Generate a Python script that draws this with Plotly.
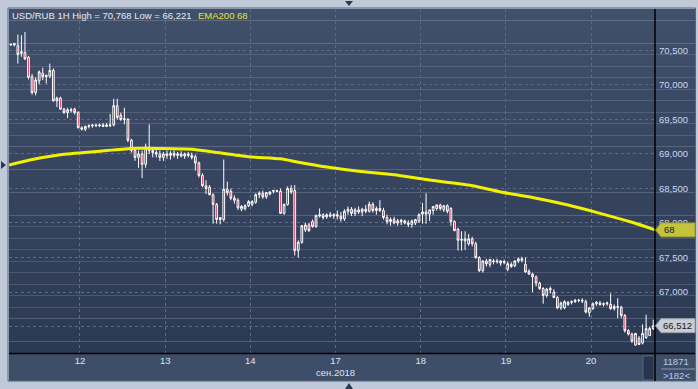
import plotly.graph_objects as go

# ---------------- data (USD/RUB, 1H candles, 11-20 Sep 2018) ----------------
opens = [70.59, 70.58, 70.57, 70.46, 70.47, 70.40, 70.12, 69.89, 70.06, 70.17,
         70.12, 70.13, 70.21, 69.77, 69.81, 69.65, 69.60, 69.63, 69.65, 69.60,
         69.38, 69.36, 69.40, 69.41, 69.42, 69.41, 69.42, 69.40, 69.41, 69.42,
         69.70, 69.56, 69.50, 69.50, 69.20, 69.05, 68.95, 69.00, 68.85, 69.10,
         69.05, 69.02, 69.00, 68.95, 69.00, 68.98, 69.01, 68.98, 69.00, 68.97,
         69.00, 68.98, 68.96, 68.87, 68.69, 68.54, 68.52, 68.41, 68.27, 68.05,
         68.05, 68.49, 68.46, 68.36, 68.33, 68.20, 68.21, 68.25, 68.27, 68.30,
         68.41, 68.43, 68.38, 68.42, 68.46, 68.47, 68.46, 68.14, 68.27, 68.50,
         68.47, 67.60, 67.72, 67.90, 67.97, 68.02, 67.95, 68.10, 68.12, 68.09,
         68.12, 68.10, 68.12, 68.10, 68.06, 68.17, 68.20, 68.14, 68.19, 68.16,
         68.20, 68.17, 68.27, 68.18, 68.21, 68.18, 68.08, 68.02, 68.05, 68.00,
         68.02, 68.03, 68.00, 67.98, 68.00, 68.03, 68.13, 68.16, 68.13, 68.18,
         68.21, 68.26, 68.19, 68.25, 68.21, 68.02, 67.91, 67.75, 67.74, 67.70,
         67.77, 67.70, 67.50, 67.31, 67.45, 67.40, 67.44, 67.45, 67.42, 67.44,
         67.33, 67.40, 67.38, 67.45, 67.48, 67.40, 67.30, 67.26, 67.22, 67.13,
         67.05, 66.95, 67.03, 67.00, 66.92, 66.77, 66.77, 66.82, 66.85, 66.86,
         66.88, 66.88, 66.86, 66.70, 66.76, 66.83, 66.84, 66.82, 66.83, 66.82,
         66.76, 66.79, 66.78, 66.66, 66.44, 66.39, 66.23, 66.33, 66.26, 66.34,
         66.37, 66.47]
highs = [70.60, 70.61, 70.73, 70.72, 70.768, 70.42, 70.16, 70.11, 70.21, 70.25,
         70.15, 70.31, 70.24, 69.83, 69.83, 69.67, 69.67, 69.67, 69.67, 69.62,
         69.40, 69.41, 69.43, 69.43, 69.44, 69.44, 69.45, 69.45, 69.58, 69.80,
         69.80, 69.60, 69.67, 69.52, 69.22, 69.10, 69.05, 69.05, 69.15, 69.43,
         69.10, 69.08, 69.05, 69.03, 69.05, 69.04, 69.05, 69.03, 69.04, 69.02,
         69.03, 69.02, 68.99, 68.89, 68.72, 68.62, 68.55, 68.43, 68.29, 68.08,
         68.92, 68.60, 68.50, 68.40, 68.36, 68.26, 68.27, 68.33, 68.33, 68.43,
         68.46, 68.47, 68.45, 68.46, 68.48, 68.48, 68.50, 68.28, 68.53, 68.55,
         68.55, 67.75, 67.97, 68.00, 68.00, 68.05, 68.12, 68.21, 68.14, 68.14,
         68.16, 68.14, 68.18, 68.16, 68.20, 68.24, 68.23, 68.22, 68.24, 68.22,
         68.26, 68.31, 68.30, 68.24, 68.33, 68.22, 68.12, 68.08, 68.09, 68.06,
         68.06, 68.05, 68.04, 68.05, 68.06, 68.14, 68.29, 68.43, 68.19, 68.24,
         68.27, 68.28, 68.26, 68.27, 68.23, 68.04, 67.93, 67.88, 67.88, 67.84,
         67.80, 67.73, 67.52, 67.46, 67.48, 67.48, 67.48, 67.48, 67.46, 67.47,
         67.44, 67.43, 67.46, 67.50, 67.51, 67.50, 67.33, 67.28, 67.24, 67.15,
         67.07, 67.06, 67.08, 67.04, 66.94, 66.86, 66.88, 66.87, 66.88, 66.90,
         66.90, 66.91, 66.89, 66.78, 66.85, 66.87, 66.87, 66.85, 66.86, 66.98,
         66.82, 66.91, 66.80, 66.68, 66.46, 66.41, 66.40, 66.36, 66.53, 66.67,
         66.50, 66.60]
lows = [70.58, 70.56, 70.31, 70.41, 70.36, 70.08, 69.86, 69.85, 70.01, 70.07,
        70.02, 70.10, 69.76, 69.68, 69.64, 69.58, 69.52, 69.60, 69.57, 69.37,
        69.34, 69.33, 69.37, 69.38, 69.39, 69.39, 69.39, 69.39, 69.39, 69.40,
        69.50, 69.48, 69.43, 69.17, 69.02, 68.90, 68.80, 68.65, 68.80, 69.00,
        68.95, 68.95, 68.90, 68.90, 68.93, 68.92, 68.95, 68.93, 68.95, 68.93,
        68.95, 68.92, 68.76, 68.66, 68.52, 68.42, 68.40, 67.99, 67.99, 67.98,
        68.02, 68.40, 68.33, 68.28, 68.19, 68.17, 68.18, 68.23, 68.24, 68.28,
        68.36, 68.35, 68.35, 68.40, 68.43, 68.45, 68.13, 68.12, 68.25, 68.42,
        67.53, 67.50, 67.70, 67.87, 67.87, 67.93, 67.93, 68.08, 68.05, 68.06,
        68.08, 68.06, 68.05, 68.02, 68.03, 68.12, 68.10, 68.10, 68.13, 68.10,
        68.14, 68.15, 68.15, 68.12, 68.16, 68.05, 67.98, 67.96, 67.98, 67.96,
        67.97, 67.98, 67.94, 67.93, 67.97, 68.00, 67.99, 67.99, 68.03, 68.12,
        68.18, 68.18, 68.16, 68.14, 67.96, 67.88, 67.60, 67.60, 67.61, 67.67,
        67.66, 67.48, 67.29, 67.28, 67.37, 67.36, 67.40, 67.41, 67.38, 67.40,
        67.30, 67.35, 67.36, 67.42, 67.43, 67.28, 67.25, 67.00, 67.08, 67.03,
        66.83, 66.92, 66.98, 66.91, 66.75, 66.74, 66.75, 66.80, 66.82, 66.84,
        66.85, 66.84, 66.69, 66.64, 66.74, 66.80, 66.80, 66.79, 66.80, 66.74,
        66.73, 66.62, 66.62, 66.41, 66.37, 66.26, 66.221, 66.23, 66.24, 66.32,
        66.36, 66.45]
closes = [70.58, 70.60, 70.44, 70.48, 70.38, 70.11, 69.89, 70.07, 70.19, 70.12,
          70.14, 70.21, 69.77, 69.81, 69.65, 69.60, 69.64, 69.64, 69.60, 69.38,
          69.36, 69.40, 69.41, 69.42, 69.41, 69.42, 69.40, 69.42, 69.42, 69.70,
          69.53, 69.50, 69.51, 69.20, 69.05, 68.95, 69.00, 68.85, 69.10, 69.05,
          69.02, 69.00, 68.95, 69.00, 68.98, 69.01, 68.98, 69.00, 68.97, 69.00,
          68.98, 68.95, 68.87, 68.69, 68.54, 68.50, 68.41, 68.27, 68.05, 68.08,
          68.49, 68.44, 68.36, 68.33, 68.22, 68.24, 68.25, 68.31, 68.31, 68.41,
          68.43, 68.38, 68.44, 68.45, 68.47, 68.46, 68.14, 68.27, 68.50, 68.45,
          67.60, 67.72, 67.96, 67.97, 67.89, 67.95, 68.11, 68.12, 68.08, 68.12,
          68.10, 68.12, 68.10, 68.06, 68.17, 68.20, 68.14, 68.19, 68.16, 68.20,
          68.17, 68.27, 68.18, 68.21, 68.18, 68.08, 68.02, 68.05, 68.00, 68.03,
          68.04, 68.00, 67.98, 68.03, 68.05, 68.12, 68.16, 68.13, 68.19, 68.24,
          68.26, 68.21, 68.25, 68.17, 68.02, 67.89, 67.75, 67.76, 67.77, 67.77,
          67.70, 67.50, 67.31, 67.45, 67.41, 67.47, 67.45, 67.44, 67.45, 67.43,
          67.41, 67.37, 67.45, 67.48, 67.46, 67.29, 67.26, 67.22, 67.13, 67.05,
          66.95, 67.04, 67.05, 66.92, 66.77, 66.84, 66.86, 66.85, 66.86, 66.88,
          66.88, 66.87, 66.71, 66.77, 66.83, 66.85, 66.82, 66.83, 66.84, 66.76,
          66.79, 66.78, 66.66, 66.44, 66.39, 66.29, 66.40, 66.24, 66.40, 66.47,
          66.47, 66.512]

# EMA200 values at selected bars
ema_bars = [-0.5, 5, 14, 25, 34, 42, 51, 57, 67, 76, 81, 89, 98, 108, 117,
            129, 138, 147, 157, 166, 175, 181.5]
ema_vals = [68.84, 68.91, 68.99, 69.04, 69.08, 69.08, 69.07, 69.03, 68.96, 68.93,
            68.88, 68.81, 68.75, 68.70, 68.63, 68.55, 68.45, 68.37, 68.26, 68.14,
            68.01, 67.90]

day_start_bars = [19.5, 43.5, 67.5, 91.5, 115.5, 139.5, 163.5]
day_labels = ["12", "13", "14", "17<br>сен.2018", "18", "19", "20"]
price_ticks = [66.5, 67.0, 67.5, 68.0, 68.5, 69.0, 69.5, 70.0, 70.5]

title_text = "USD/RUB 1H High = 70,768 Low = 66,221"
ema_label = "EMA200 68"
ema_tag = "68"
close_tag = "66,512"
bars_total = "11871"
bars_visible = ">182<"

# ---------------- geometry helpers (pixels -> paper) ----------------
W, H = 698, 389
L, R, T, B = 9, 655, 9, 353


def px(x):
    return (x - L) / (R - L)


def py(y):
    return (B - y) / (B - T)


def mix(c1, c2, t):
    a = [int(c1[i:i + 2], 16) for i in (1, 3, 5)]
    b = [int(c2[i:i + 2], 16) for i in (1, 3, 5)]
    return "rgb(%d,%d,%d)" % tuple(round(a[k] + (b[k] - a[k]) * t) for k in range(3))


FONT = "Liberation Sans, Arial, sans-serif"
OUTER = "#bfc9d8"

fig = go.Figure()

fig.add_trace(go.Candlestick(
    x=list(range(len(closes))), open=opens, high=highs, low=lows, close=closes,
    increasing=dict(line=dict(color="#ffffff", width=1), fillcolor="rgba(0,0,0,0)"),
    decreasing=dict(line=dict(color="#ffffff", width=1), fillcolor="#dc143c"),
    whiskerwidth=0, showlegend=False, hoverinfo="skip",
))

fig.add_trace(go.Scatter(
    x=ema_bars, y=ema_vals, mode="lines",
    line=dict(color="#f2f200", width=3, shape="spline", smoothing=0.6),
    showlegend=False, hoverinfo="skip",
))

shapes = []
# gradient background for plot area + right panel
top_c, bot_c = "#404f6a", "#2c3953"
n = 30
for k in range(n):
    y0 = T + (B - T) * k / n
    y1 = T + (B - T) * (k + 1) / n
    shapes.append(dict(type="rect", xref="paper", yref="paper",
                       x0=px(9), x1=px(695), y0=py(y1), y1=py(y0),
                       fillcolor=mix(top_c, bot_c, (k + 0.5) / n),
                       line=dict(width=0), layer="below"))
# bottom axis panel
shapes.append(dict(type="rect", xref="paper", yref="paper",
                   x0=px(9), x1=px(695), y0=py(381), y1=py(353),
                   fillcolor="#3f4e68", line=dict(width=0), layer="below"))
# scroll thumb
shapes.append(dict(type="rect", xref="paper", yref="paper",
                   x0=px(643), x1=px(654), y0=py(380), y1=py(356),
                   fillcolor="#27354e", line=dict(color="#55637a", width=1), layer="above"))
# frame
shapes.append(dict(type="rect", xref="paper", yref="paper",
                   x0=px(8), x1=px(695.5), y0=py(381), y1=py(8),
                   fillcolor="rgba(0,0,0,0)", line=dict(color="#56647c", width=1), layer="above"))
# separators
shapes.append(dict(type="line", xref="paper", yref="paper",
                   x0=px(655), x1=px(655), y0=py(381), y1=py(9),
                   line=dict(color="#000000", width=1.5), layer="above"))
shapes.append(dict(type="line", xref="paper", yref="paper",
                   x0=px(9), x1=px(695), y0=py(353.5), y1=py(353.5),
                   line=dict(color="#000000", width=1.5), layer="above"))
# line between bar counters
shapes.append(dict(type="line", xref="paper", yref="paper",
                   x0=px(661), x1=px(695), y0=py(369), y1=py(369),
                   line=dict(color="#8898b0", width=1), layer="above"))


# price tags on the right axis (positioned at their data values)
def tag_path(yval, half):
    x0, x1, x2 = px(655.5), px(661), px(695)
    return ("M %f,%f L %f,%f L %f,%f L %f,%f L %f,%f Z" %
            (x0, yval, x1, yval + half, x2, yval + half, x2, yval - half, x1, yval - half))


half_h = 7 / 69.0
shapes.append(dict(type="path", xref="paper", yref="y", path=tag_path(ema_vals[-1], half_h),
                   fillcolor="#c3c33c", line=dict(color="#9a9a30", width=1), layer="above"))
shapes.append(dict(type="path", xref="paper", yref="y", path=tag_path(closes[-1], half_h),
                   fillcolor="#c8ccd4", line=dict(color="#9aa0aa", width=1), layer="above"))


# little navigation arrows in the outer frame
def tri(points):
    pts = " L ".join("%f,%f" % (px(a), py(b)) for a, b in points[1:])
    return "M %f,%f L %s Z" % (px(points[0][0]), py(points[0][1]), pts)


arrow_col = "#2a3a52"
shapes.append(dict(type="path", xref="paper", yref="paper", path=tri([(345, 1), (353, 1), (349, 6)]),
                   fillcolor=arrow_col, line=dict(width=0), layer="above"))
shapes.append(dict(type="path", xref="paper", yref="paper", path=tri([(1, 161), (1, 169), (6, 165)]),
                   fillcolor=arrow_col, line=dict(width=0), layer="above"))
shapes.append(dict(type="path", xref="paper", yref="paper", path=tri([(345, 389), (353, 389), (349, 383)]),
                   fillcolor=arrow_col, line=dict(width=0), layer="above"))

annotations = [
    dict(text=title_text, xref="paper", yref="paper", x=px(10), y=py(15),
         xanchor="left", yanchor="middle", showarrow=False,
         font=dict(family=FONT, size=9.5, color="#e6ecf6")),
    dict(text=ema_label, xref="paper", yref="paper", x=px(196), y=py(15),
         xanchor="left", yanchor="middle", showarrow=False,
         font=dict(family=FONT, size=9.5, color="#e4e43a")),
    dict(text=ema_tag, xref="paper", yref="y", x=px(662), y=ema_vals[-1],
         xanchor="left", yanchor="middle", showarrow=False,
         font=dict(family=FONT, size=9.5, color="#1a1a1a")),
    dict(text=close_tag, xref="paper", yref="y", x=px(661), y=closes[-1],
         xanchor="left", yanchor="middle", showarrow=False,
         font=dict(family=FONT, size=9.5, color="#1a1a1a")),
    dict(text=bars_total, xref="paper", yref="paper", x=px(676), y=py(361.5),
         xanchor="center", yanchor="middle", showarrow=False,
         font=dict(family=FONT, size=9.5, color="#b4ccee")),
    dict(text=bars_visible, xref="paper", yref="paper", x=px(676), y=py(375),
         xanchor="center", yanchor="middle", showarrow=False,
         font=dict(family=FONT, size=9.5, color="#b4ccee")),
]

fig.update_layout(
    width=W, height=H,
    margin=dict(l=L, r=W - R, t=T, b=H - B, pad=0),
    paper_bgcolor=OUTER,
    plot_bgcolor="rgba(0,0,0,0)",
    separators=", ",
    shapes=shapes,
    annotations=annotations,
    showlegend=False,
    xaxis=dict(
        range=[-0.5, len(closes) - 0.5], rangeslider=dict(visible=False),
        tickmode="array", tickvals=day_start_bars, ticktext=day_labels,
        showgrid=True, gridcolor="#5c6b86", griddash="3px,3px", gridwidth=1,
        ticks="", showline=False, zeroline=False,
        tickfont=dict(family=FONT, size=9.5, color="#dce4f2"),
        fixedrange=True,
    ),
    yaxis=dict(
        side="right", range=[66.116, 71.101],
        tickmode="array", tickvals=price_ticks, tickformat=".3f",
        showgrid=True, gridcolor="#5c6b86", griddash="3px,3px", gridwidth=1,
        ticks="", showline=False, zeroline=False, ticklabelstandoff=3,
        tickfont=dict(family=FONT, size=9.5, color="#c6d8f4"),
        fixedrange=True,
    ),
)

page_css = ("document.body.style.margin='0';document.body.style.padding='0';"
            "document.body.style.overflow='hidden';"
            "document.body.style.background='" + OUTER + "';")
fig.write_html("out.html", post_script=page_css, config={"displayModeBar": False})
